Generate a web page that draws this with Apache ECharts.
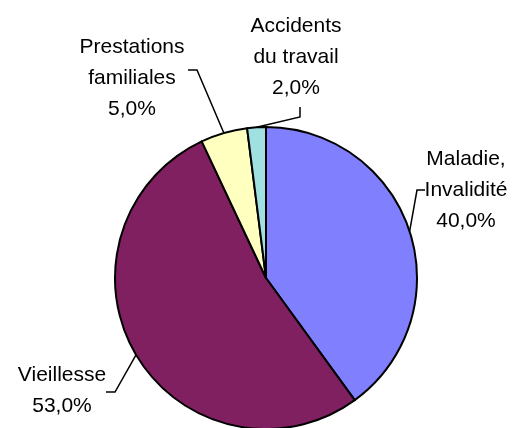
<!DOCTYPE html>
<html>
<head>
<meta charset="utf-8">
<script src="https://cdn.jsdelivr.net/npm/echarts@6/dist/echarts.min.js"></script>
<style>
html,body{margin:0;padding:0;background:#fff;}
#chart{width:515px;height:428px;}
</style>
</head>
<body>
<div id="chart"></div>
<script>
// Data
const categories = ["Maladie,\nInvalidité", "Vieillesse", "Prestations\nfamiliales", "Accidents\ndu travail"];
const values = [40.0, 53.0, 5.0, 2.0];

// Styles / layout (not data)
const colors = ["#8080FF", "#802060", "#FFFFC0", "#A0E0E0"];
const labelPos = [[466, 190], [62, 391], [132, 78], [296, 57]];
const lineBends = [
  [[417, 190], [425, 190]],
  [[115, 392], [106, 392]],
  [[197, 70], [188, 70]],
  [[300, 117], [300, 107]]
];

const chart = echarts.init(document.getElementById('chart'), null, {renderer: 'canvas'});
chart.setOption({
  animation: false,
  backgroundColor: '#fff',
  series: [{
    type: 'pie',
    center: [266, 278],
    radius: 151,
    startAngle: 90,
    clockwise: true,
    data: categories.map((c, i) => ({name: c, value: values[i], itemStyle: {color: colors[i]}})),
    itemStyle: {borderColor: '#000', borderWidth: 2},
    emphasis: {disabled: true},
    label: {
      show: true,
      position: 'outside',
      overflow: 'none',
      formatter: p => p.name + '\n' + p.value.toFixed(1).replace('.', ',') + '%',
      fontFamily: 'Liberation Sans, Arial, sans-serif',
      fontSize: 21,
      lineHeight: 31,
      color: '#000',
      align: 'center'
    },
    labelLine: {show: true, smooth: false, length: 10, length2: 10, lineStyle: {color: '#000', width: 1.5}},
    labelLayout: function (params) {
      const i = params.dataIndex;
      const start = params.labelLinePoints ? params.labelLinePoints[0] : null;
      const res = {
        x: labelPos[i][0],
        y: labelPos[i][1],
        width: 140,
        align: 'center',
        verticalAlign: 'middle'
      };
      if (start) {
        res.labelLinePoints = [start, lineBends[i][0], lineBends[i][1]];
      }
      return res;
    }
  }]
});
</script>
</body>
</html>
